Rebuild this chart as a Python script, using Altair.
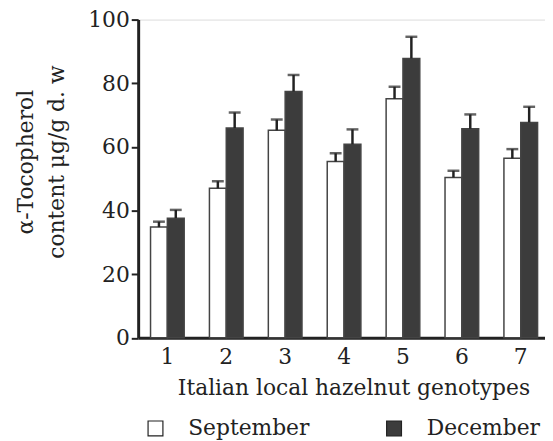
import altair as alt
import pandas as pd

genotypes = ["1", "2", "3", "4", "5", "6", "7"]
seasons = ["September", "December"]
september = [34.8, 47.0, 65.2, 55.4, 75.1, 50.4, 56.4]
december = [37.6, 65.9, 77.4, 60.8, 87.8, 65.7, 67.7]
september_err = [1.7, 2.2, 3.4, 2.6, 3.8, 2.1, 2.9]
december_err = [2.6, 4.9, 5.2, 4.7, 6.8, 4.5, 4.9]
y_ticks = [0, 10, 20, 30, 40, 50, 60, 70, 80, 90, 100]

rows = []
for i, g in enumerate(genotypes):
    rows.append(dict(genotype=g, season="September", value=september[i],
                     top=september[i] + september_err[i]))
    rows.append(dict(genotype=g, season="December", value=december[i],
                     top=december[i] + december_err[i]))
df = pd.DataFrame(rows)

FONT = "DejaVu Serif"
INK = "#222222"

xscale = alt.Scale(domain=genotypes, paddingInner=0.4286, paddingOuter=0.168, align=0.625)
offscale = alt.Scale(domain=seasons, paddingInner=0, paddingOuter=0)
yscale = alt.Scale(domain=[0, 100], nice=False, zero=True)

x_enc = alt.X(
    "genotype:N", scale=xscale,
    axis=alt.Axis(
        labelAngle=0, ticks=False, tickSize=0, domainWidth=3, domainColor=INK,
        labelFont=FONT, labelFontSize=22, labelColor=INK, labelPadding=9,
        title="Italian local hazelnut genotypes", titleFont=FONT, titleFontSize=22,
        titleFontWeight="normal", titleColor=INK, titleX=217.5, titleY=57,
        titleAlign="center", titleBaseline="alphabetic", grid=False,
    ),
)
xoff = alt.XOffset("season:N", scale=offscale)

y_axis = alt.Axis(
    values=y_ticks,
    labelExpr="datum.value % 20 == 0 ? datum.label : ''",
    tickSize=7, tickWidth=2, tickColor=INK, domainWidth=3, domainColor=INK,
    labelFont=FONT, labelFontSize=22, labelColor=INK, labelPadding=2,
    grid=False,
    title=["α-Tocopherol", "content μg/g d. w"],
    titleFont=FONT, titleFontSize=22, titleFontWeight="normal", titleColor=INK,
    titleAngle=270, titleX=-106.5, titleY=143.5, titleAlign="center",
    titleBaseline="alphabetic", titleLineHeight=31,
)

bars = alt.Chart(df).mark_bar(stroke="#444444", strokeWidth=1.5).encode(
    x=x_enc,
    xOffset=xoff,
    y=alt.Y("value:Q", scale=yscale, axis=y_axis),
    fill=alt.Fill(
        "season:N",
        scale=alt.Scale(domain=seasons, range=["#ffffff", "#3c3c3c"]),
        legend=alt.Legend(
            orient="none", legendX=6.5, legendY=402, direction="horizontal",
            title=None, symbolType="square", symbolSize=225,
            symbolStrokeColor=INK, symbolStrokeWidth=1.2,
            labelFont=FONT, labelFontSize=22, labelColor=INK,
            labelOffset=22, columnPadding=74, padding=0,
        ),
    ),
)

rules = alt.Chart(df).mark_rule(color=INK, strokeWidth=2.5).encode(
    x=alt.X("genotype:N", scale=xscale),
    xOffset=xoff,
    y=alt.Y("value:Q", scale=yscale),
    y2="top:Q",
)

caps = alt.Chart(df).mark_tick(color=INK, thickness=2.5, size=12, orient="horizontal").encode(
    x=alt.X("genotype:N", scale=xscale),
    xOffset=xoff,
    y=alt.Y("top:Q", scale=yscale),
)

chart = alt.layer(bars, rules, caps).properties(
    width=411, height=321.5,
    autosize=alt.AutoSizeParams(type="none"),
    padding={"left": 131.5, "top": 9.5, "right": 0, "bottom": 101},
).configure_view(stroke=None).configure(background="white")

chart.save("out.html", embed_options={"renderer": "svg", "actions": False})
